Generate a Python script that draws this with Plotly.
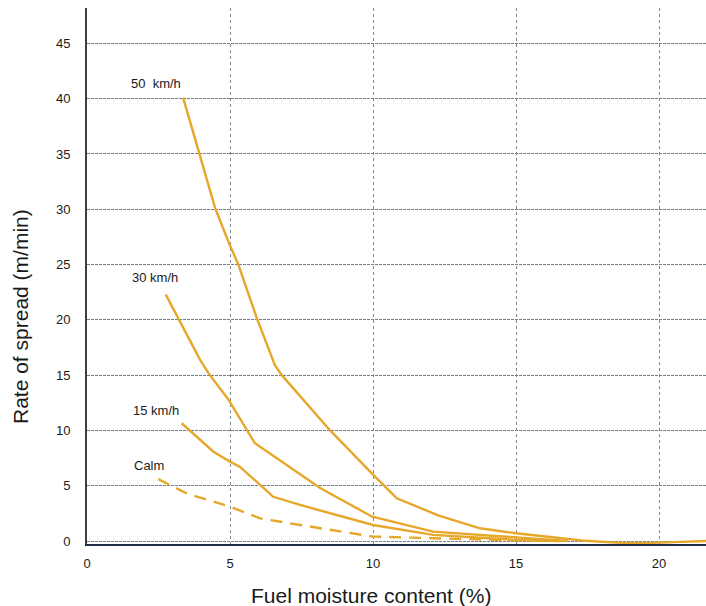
import plotly.graph_objects as go

# Rate of spread (m/min) against fuel moisture content (%) for four wind speeds
wind_labels = ["50  km/h", "30 km/h", "15 km/h", "Calm"]

moist_50 = [3.36, 3.93, 4.48, 4.97, 5.29, 5.93, 6.57, 6.81, 8.5, 10.0, 10.83, 12.3, 13.74, 15.0, 16.2, 17.3, 18.5, 19.5, 20.5, 21.7]
ros_50 = [40.1, 35.1, 30.1, 26.9, 25.0, 20.2, 15.9, 15.0, 10.0, 6.0, 3.86, 2.3, 1.15, 0.7, 0.35, 0.05, -0.15, -0.2, -0.1, 0.0]

moist_30 = [2.75, 3.19, 3.95, 4.24, 4.94, 5.87, 7.45, 8.15, 9.97, 12.1, 15.0, 16.8]
ros_30 = [22.3, 20.15, 16.4, 15.2, 12.8, 8.84, 6.0, 4.8, 2.2, 0.85, 0.33, 0.0]

moist_15 = [3.31, 3.95, 4.42, 5.0, 5.35, 6.16, 6.51, 7.45, 10.0, 12.1, 15.0, 16.5]
ros_15 = [10.65, 9.14, 8.08, 7.18, 6.7, 4.82, 4.0, 3.26, 1.45, 0.55, 0.1, 0.0]

moist_calm = [2.49, 3.49, 5.0, 6.05, 7.45, 9.2, 10.0, 12.1, 14.0, 16.0]
ros_calm = [5.6, 4.3, 3.1, 2.05, 1.45, 0.7, 0.4, 0.25, 0.1, 0.0]

x_ticks = [0, 5, 10, 15, 20]
y_ticks = [0, 5, 10, 15, 20, 25, 30, 35, 40, 45]

x_title = "Fuel moisture content (%)"
y_title = "Rate of spread (m/min)"

LINE = "#E6A72A"
TEXT = "#1a1a1a"
FONT = "Liberation Sans, Arial, sans-serif"

series = [
    (moist_50, ros_50, "solid"),
    (moist_30, ros_30, "solid"),
    (moist_15, ros_15, "solid"),
    (moist_calm, ros_calm, "dash"),
]

fig = go.Figure()
for (xs, ys, dash), name in zip(series, wind_labels):
    fig.add_trace(go.Scatter(
        x=xs, y=ys, mode="lines", name=name,
        line=dict(color=LINE, width=2.4, dash="12px,8px" if dash == "dash" else "solid"),
        showlegend=False,
    ))

# Wind labels sit just above the start of each curve
label_offsets = [(0, 5), (14, 7), (-1, 3), (8, 4)]
for (xs, ys, _), name, (dx, dy) in zip(series, wind_labels, label_offsets):
    fig.add_annotation(
        x=xs[0], y=ys[0], xref="x", yref="y", text=name, showarrow=False,
        xanchor="right", yanchor="bottom", xshift=dx, yshift=dy,
        font=dict(family=FONT, size=13, color=TEXT),
    )

# Axis titles, placed as free text
fig.add_annotation(
    x=0.459, y=0, xref="paper", yref="paper", text=x_title, showarrow=False,
    xanchor="center", yanchor="middle", yshift=-51,
    font=dict(family=FONT, size=21, color=TEXT),
)
fig.add_annotation(
    x=0, y=0.4235, xref="paper", yref="paper", text=y_title, showarrow=False,
    textangle=-90, xanchor="center", yanchor="middle", xshift=-67,
    font=dict(family=FONT, size=21, color=TEXT),
)

fig.update_layout(
    width=706, height=606,
    margin=dict(l=87, r=0, t=8, b=62),
    paper_bgcolor="white", plot_bgcolor="white",
    font=dict(family=FONT, color=TEXT),
)
fig.update_xaxes(
    range=[0, 21.64], tickvals=x_ticks, ticktext=[str(v) for v in x_ticks],
    showgrid=True, gridcolor="#7d8a93", gridwidth=1, griddash="dot",
    showline=True, linecolor="#1f2a44", linewidth=2,
    zeroline=False, ticks="", ticklabelstandoff=6,
    tickfont=dict(family=FONT, size=13, color=TEXT),
)
fig.update_yaxes(
    range=[-0.27, 48.2], tickvals=y_ticks, ticktext=[str(v) for v in y_ticks],
    showgrid=True, gridcolor="#6f7f8a", gridwidth=1, griddash="3px,1px",
    showline=True, linecolor="#3a4048", linewidth=2,
    zeroline=False, ticks="", ticklabelstandoff=12,
    tickfont=dict(family=FONT, size=13, color=TEXT),
)

fig.write_html("out.html")
